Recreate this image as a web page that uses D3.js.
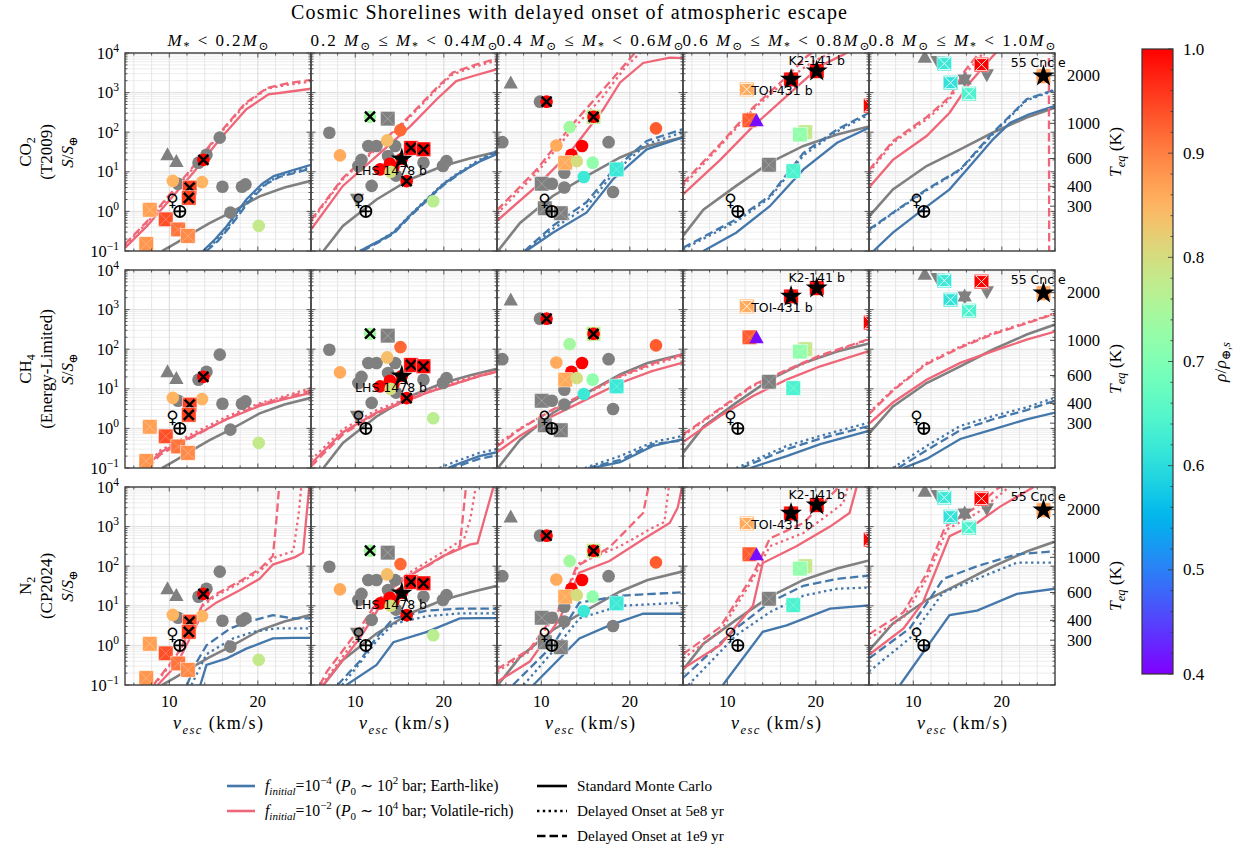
<!DOCTYPE html>
<html>
<head>
<meta charset="utf-8">
<script src="https://cdn.jsdelivr.net/npm/d3@7"></script>
<style>
  body { margin: 0; background: #fff; }
  svg { display: block; }
  text { white-space: pre; }
  .serif { font-family: "Liberation Serif", "DejaVu Serif", serif; }
  .sans { font-family: "DejaVu Sans", sans-serif; }
</style>
</head>
<body>
<svg id="chart" width="1244" height="855"></svg>
<script>
// ---------------------------------------------------------------
// Data: escape velocity (km/s) vs instellation S/S_earth
// ---------------------------------------------------------------
const velocityDomain = [5, 26];
const fluxDomain = [0.1, 1e4];
const velocityTicks = [10, 20];
const fluxTicks = [0.1, 1, 10, 100, 1000, 10000];
const teqTicks = [300, 400, 600, 1000, 2000];
const teqReference = 278;            // T_eq (K) at S = 1 S_earth
const densityDomain = [0.4, 1.0];
const densityTicks = [0.4, 0.5, 0.6, 0.7, 0.8, 0.9, 1.0];

const massBinLabels = [
  "|M|_{*} < 0.2|M|_{⊙}",
  "0.2 |M|_{⊙} ≤ |M|_{*} < 0.4|M|_{⊙}",
  "0.4 |M|_{⊙} ≤ |M|_{*} < 0.6|M|_{⊙}",
  "0.6 |M|_{⊙} ≤ |M|_{*} < 0.8|M|_{⊙}",
  "0.8 |M|_{⊙} ≤ |M|_{*} < 1.0|M|_{⊙}"
];
const gasLabels = [
  ["CO_{2}", "(T2009)", "|S|/|S|_{⊕}"],
  ["CH_{4}", "(Energy-Limited)", "|S|/|S|_{⊕}"],
  ["N_{2}", "(CP2024)", "|S|/|S|_{⊕}"]
];

// classic cosmic shoreline, one per stellar-mass bin
const shoreline = [
  [[9.2,0.1],[10.8,0.16],[12.7,0.29],[14.5,0.5],[16.9,0.93],[20.2,2.4],[23,4],[26,5.9]],
  [[6.4,0.1],[8.6,0.43],[12.4,2],[16.2,6.5],[19.9,14],[23,22],[26,32]],
  [[5.1,0.1],[7.6,0.51],[11.3,2.45],[15.1,7.8],[18.9,23],[22,45],[26,74]],
  [[5,0.24],[7.3,1.1],[11,4.4],[14.8,17],[18.6,45],[22.4,87],[26,140]],
  [[5,0.74],[7.7,3.6],[11.5,14],[15.3,37],[19,98],[22.8,234],[26,420]]
];

// ---- CO2 (T2009) ----
const co2RichStd = [
  [[5,0.12],[7.5,0.43],[12.7,9.5],[15.7,66],[18.7,380],[21.2,900],[23.5,1050],[26,1250]],
  [[5,0.35],[8.6,4.4],[12.4,25],[16.2,140],[19.2,680],[21.4,1950],[23.5,2700],[26,3900]],
  [[5,0.58],[9.5,4.4],[13.2,30],[17,380],[18.9,1800],[21.5,5600],[24.5,7600],[26,7400]],
  [[5,2.7],[9.2,20],[12.9,140],[16.7,810],[20.5,4700],[23.1,9100],[24,12000]],
  [[5,4],[7.7,20],[11.5,80],[14.1,310],[16.4,1800],[18.3,5600],[19.6,12000]]
];
const co2RichLate5 = [
  [[5,0.14],[7.5,0.52],[12.5,11],[15.5,80],[18.5,480],[21,1250],[23.5,1600],[26,1900]],
  [[5,0.55],[8.6,6.5],[12.4,38],[16,220],[19,1100],[21,2900],[23.5,4500],[26,6500]],
  [[5,0.87],[9.5,9.5],[13.2,98],[17,810],[19.6,4700],[20.8,8300],[21.5,12000]],
  [[5,4.4],[9.2,45],[12.9,370],[16.7,2100],[19.8,6300],[21.3,9100],[22,12000]],
  [[5,9.5],[7.7,54],[11.5,210],[14.1,680],[16,3200],[17.9,10000],[18.2,12000]]
];
const co2RichLate10 = [
  [[5,0.15],[7.5,0.56],[12.5,12],[15.5,85],[18.5,520],[21,1300],[23.5,1750],[26,2100]],
  [[5,0.6],[8.6,7],[12.4,42],[16,240],[19,1200],[21,3200],[23.5,5000],[26,7200]],
  [[5,1.07],[9.5,11.5],[13.2,130],[17,1200],[20.4,9100],[21,13000]],
  [[5,5.2],[9.2,50],[12.9,420],[16.7,2500],[19,8300],[20,12000]],
  [[5,11],[7.7,60],[11.5,240],[14.1,780],[15.8,3500],[17.6,11000],[25.3,100000],[25.35,0.01]]
];
const co2EarthStd = [
  [[13.8,0.1],[15.2,0.2],[16.5,0.43],[18.7,2],[20.5,5],[21.8,7.8],[24,11],[26,15]],
  [[10.5,0.1],[12.5,0.17],[14.3,0.29],[16.2,0.8],[18.1,2],[20,5],[21.8,9.5],[24,18],[26,28]],
  [[8.3,0.1],[11.3,0.29],[15.1,0.93],[18.1,6.5],[21.9,37],[26,74]],
  [[7.3,0.1],[11,0.29],[14.8,1.35],[18.6,11.5],[22.4,54],[26,130]],
  [[5.5,0.1],[7.7,0.29],[11.1,1.12],[14.1,3.6],[16.4,14],[19,66],[20.9,170],[23,280],[26,460]]
];
const co2EarthLate5 = [
  [[14,0.1],[15.4,0.19],[16.8,0.45],[19,2],[21,5.3],[22.5,8],[26,13]],
  [[10.6,0.1],[12.5,0.17],[14.3,0.3],[16.2,0.82],[18.1,2.1],[20,5.2],[21.8,10],[24,20],[26,34]],
  [[8.2,0.1],[11.3,0.36],[15.1,1.3],[18.1,9],[21.9,50],[26,100]],
  [[5,0.11],[11,0.55],[14.8,2.2],[18.6,26],[22.4,105],[26,280]],
  [[5,0.33],[7.7,0.9],[11.5,3.4],[15.3,11],[19,90],[22.8,640],[26,1150]]
];
const co2EarthLate10 = [
  [[14.2,0.1],[15.5,0.18],[17,0.45],[19,1.8],[21,5],[22.5,7.5],[26,12]],
  [[10.8,0.1],[12.5,0.16],[14.3,0.27],[16.2,0.75],[18.1,1.9],[20,4.7],[21.8,9],[24,19],[26,32]],
  [[8.1,0.1],[11.3,0.43],[15.1,1.7],[18.1,11],[21.9,60],[26,120]],
  [[5,0.12],[11,0.63],[14.8,2.45],[18.6,30],[22.4,117],[26,310]],
  [[5,0.35],[7.7,0.93],[11.5,3.6],[15.3,11.5],[19,98],[22.8,680],[26,1200]]
];

// ---- CH4 (energy-limited) ----
const ch4RichStd = [
  [[7.3,0.1],[9,0.25],[12.7,0.65],[16.5,1.7],[20.2,3.7],[23,5.5],[26,7.9]],
  [[5,0.13],[8.6,0.8],[12.4,2.5],[18.1,8],[24,21],[26,27]],
  [[5,0.25],[7.6,0.65],[11.3,2.05],[15.1,5.4],[18.9,14],[22.5,28],[26,46]],
  [[5,0.45],[9.2,2.05],[12.9,6.6],[16.7,17],[20.5,37],[26,90]],
  [[5,1.3],[7.7,4.5],[11.5,17],[15.3,45],[19,89],[22.8,174],[26,280]]
];
const ch4RichLate5 = [
  [[7.1,0.1],[9,0.28],[12.7,0.75],[16.5,2],[20.2,4.3],[23,6.5],[26,10.5]],
  [[5,0.16],[8.6,0.95],[12.4,2.9],[18.1,9],[24,23],[26,29]],
  [[5,0.4],[7.6,1],[11.3,2.9],[15.1,7.5],[18.9,20],[22.5,40],[26,68]],
  [[5,0.65],[9.2,3],[12.9,11.7],[16.7,28],[20.5,65],[26,175]],
  [[5,2.5],[7.7,9.5],[11.5,45],[15.3,117],[19,257],[22.8,470],[26,810]]
];
const ch4RichLate10 = [
  [[7.6,0.1],[9,0.22],[12.7,0.62],[16.5,1.75],[20.2,4],[23,6],[26,9]],
  [[5,0.11],[8.6,0.7],[12.4,2.4],[18.1,8],[24,21],[26,27]],
  [[5,0.35],[7.6,0.95],[11.3,3],[15.1,8],[18.9,21],[22.5,43],[26,74]],
  [[5,0.7],[9.2,3.2],[12.9,12.5],[16.7,30],[20.5,70],[26,180]],
  [[5,2.3],[7.7,9],[11.5,42],[15.3,110],[19,240],[22.8,450],[26,780]]
];
const ch4EarthStd = [
  [],
  [[20.5,0.1],[21.1,0.115],[24,0.2],[26,0.25]],
  [[15.8,0.1],[18.9,0.14],[22.6,0.36],[26,0.54]],
  [[12.6,0.1],[16.7,0.2],[20.5,0.4],[26,0.87]],
  [[8.9,0.1],[11.5,0.17],[15.3,0.54],[19,0.95],[22.8,1.7],[26,2.5]]
];
const ch4EarthLate5 = [
  [],
  [[19.5,0.1],[21.1,0.14],[24,0.24],[26,0.3]],
  [[14.9,0.1],[18.9,0.2],[22.6,0.45],[26,0.65]],
  [[11,0.1],[16.7,0.36],[20.5,0.65],[26,1.4]],
  [[7.7,0.1],[11.5,0.36],[15.3,1.15],[19,2.05],[22.8,3.4],[26,6]]
];
const ch4EarthLate10 = [
  [],
  [[20.5,0.1],[22,0.12],[24,0.17],[26,0.21]],
  [[15.3,0.1],[18.9,0.16],[22.6,0.4],[26,0.5]],
  [[11.6,0.1],[16.7,0.3],[20.5,0.55],[26,1.15]],
  [[8.3,0.1],[11.5,0.28],[15.3,0.9],[19,1.7],[22.8,2.9],[26,5]]
];

// ---- N2 (CP2024) ----
const n2RichStd = [
  [[8.7,0.1],[10.8,0.32],[12.7,2.2],[13.8,6.9],[15.3,12],[18,25],[20.2,48],[21.7,110],[24.2,170],[25.1,220],[25.8,10000]],
  [[6.4,0.1],[10.5,1.5],[12.4,7],[13.5,22],[16.2,58],[19.9,180],[22.9,350],[23.8,380],[25.6,10000]],
  [[5,0.12],[8.7,0.39],[12.1,4.8],[14.3,69],[17.7,135],[21.5,480],[24.5,1230],[25.4,3000],[25.9,10000]],
  [[5,0.26],[9.2,1.02],[12.9,10],[14,120],[17.8,320],[21.6,1000],[23.8,2200],[24.6,10000]],
  [[5,0.58],[8.9,2.7],[11.1,12.3],[14.1,575],[17.2,1230],[19.8,3200],[23.6,10000]]
];
const n2RichLate5 = [
  [[8.3,0.1],[10.8,0.5],[12.7,3.2],[13.8,10],[15.3,18],[18,38],[20.2,75],[22,170],[24,240],[24.6,2000],[24.9,10000]],
  [[6.2,0.1],[10.5,2],[12.4,9],[13.5,26],[16.2,70],[19.9,230],[22.3,500],[23,1600],[23.6,10000]],
  [[5,0.22],[8.7,0.7],[12.1,8.5],[14.3,120],[18.9,320],[22.8,1000],[23.9,1300],[24.4,10000]],
  [[5,0.47],[9.2,2.2],[12.9,48],[14.8,320],[18.6,690],[23.1,3900],[23.6,10000]],
  [[5,1.5],[8.9,5],[11.5,48],[13.8,850],[17.2,2200],[20,7000],[21,11000]]
];
const n2RichLate10 = [
  [[8.2,0.1],[10.8,0.55],[12.7,3.5],[13.8,11],[15.3,20],[18,42],[20.2,85],[21.7,180],[22.1,1500],[22.4,10000]],
  [[6,0.1],[6.8,0.22],[10.5,2.7],[12.4,12],[14.3,39],[18.1,100],[21.8,320],[22.5,10000]],
  [[5,0.25],[8.7,0.8],[12.1,9.5],[14,100],[17.7,300],[21.5,2200],[22.1,10000]],
  [[5,0.6],[9.2,2.9],[12.9,60],[14.8,500],[18.6,1230],[22.3,8500],[22.6,12000]],
  [[5,1.9],[8.9,6.9],[11.5,65],[13.6,1000],[17,3000],[19.5,9000],[20.5,12000]]
];
const n2EarthStd = [
  [[13.5,0.1],[14.2,0.32],[16.5,0.47],[18.7,0.83],[21.7,1.5],[24,1.55],[26,1.55]],
  [[9,0.1],[12.4,0.32],[14.3,1.2],[18.1,2.2],[21.8,4.8],[24,4.9],[26,4.9]],
  [[9.1,0.1],[14.3,1.5],[17.7,3.2],[21.5,6.3],[26,6.3]],
  [[9.5,0.1],[14,2.2],[16.7,3.2],[21.6,8.5],[26,10.2]],
  [[8.5,0.1],[14.1,5.8],[17.2,7.6],[21.7,20],[26,27]]
];
const n2EarthLate5 = [
  [[12.5,0.1],[14.2,0.6],[17.2,1.5],[19.5,2.2],[22.1,2.7],[26,2.7]],
  [[8.5,0.1],[10.5,0.35],[12.4,1.3],[14.3,3.5],[18.1,5.5],[21.8,6.4],[26,6.5]],
  [[8,0.1],[11.3,0.7],[14.3,4.8],[18.9,10],[26,12]],
  [[5.6,0.1],[11,1.8],[14.8,6.9],[18.6,18],[22.4,27],[26,29]],
  [[5,0.22],[9.6,1.5],[13.4,22],[17.2,48],[21.7,123],[26,123]]
];
const n2EarthLate10 = [
  [[12,0.1],[13,0.35],[14.2,1],[16.9,2.7],[19,4],[21.7,5.8],[24,4.8],[26,4.8]],
  [[8,0.1],[10.5,0.4],[12.4,1.6],[14.3,4.8],[18.1,7.6],[21.8,8.5],[26,8.5]],
  [[6.8,0.1],[11.3,1],[14.3,12],[18.9,18],[26,22]],
  [[5,0.15],[11,2.7],[14.8,12.3],[18.6,32],[22.4,48],[26,58]],
  [[5,0.47],[9.6,2.7],[13.4,48],[17.2,100],[21.7,200],[26,240]]
];

// ---- observed planets: [v_esc, S, marker, rho/rho_earth (null = unknown), overlay] ----
const planetsBin1 = [
  [9.8,26,"^",null],[10.8,17.6,"^",null],
  [15.7,73,"o",null],[14.2,27,"o",null],[13.3,17,"o",null],[16,4.2,"o",null],[18.2,4.2,"o",null],
  [18.6,4.8,"o",null],[16.9,0.93,"o",null],[11,5,"o",null],
  [10.4,5.9,"o",0.85],[13.7,5.5,"o",0.85],
  [13.85,20,"o",1.0,"x"],
  [12.3,4,"s",0.95,"x"],[12.2,2.2,"s",0.95,"x"],
  [7.8,1.1,"s",0.87],[9.6,0.63,"s",0.94],[11,0.35,"s",0.91],[12.1,0.24,"s",0.89],[7.4,0.15,"s",0.88],
  [20.1,0.43,"o",0.78]
];
const planetsBin2 = [
  [13.66,220,"s",null],[7.07,97,"o",null],
  [11.47,45,"o",null],[12.4,45,"o",null],[14.5,45,"o",null],[13.7,25,"o",null],[10.7,20,"o",null],
  [10.35,14,"o",null],[11.85,4.4,"o",null],[17.7,17,"o",null],[20.3,18.6,"o",null],[19.9,14,"o",null],[14.6,8,"o",null],
  [10.2,2.1,"v",null],
  [11.66,246,"o",0.74,"x"],[15.1,113,"o",0.92],[13.6,62,"o",0.84],[8.27,26,"o",0.86],
  [12.8,11.5,"o",1.0],[13.9,16,"o",1.0],[14.3,13,"o",1.0],[14,10,"o",0.8],
  [15.25,21,"o",1.0,"*"],
  [16.3,40,"s",1.0,"x"],[17.7,37,"s",1.0,"x"],
  [15.8,5.8,"o",1.0,"x"],[18.8,1.8,"o",0.77]
];
const planetsBin3 = [
  [6.55,1700,"^",null],[9.85,590,"o",null],[5.6,56,"o",null],[17.6,56,"o",null],
  [12.6,9.5,"o",null],[12.6,4,"o",null],[18.1,3.1,"o",null],
  [10.05,5,"s",null],[11.2,5,"o",null],[10.4,1.2,"s",null],[12.2,0.9,"s",null],
  [10.6,590,"o",1.0,"x"],
  [15.9,245,"s",0.78],[15.9,245,"o",1.0,"x"],
  [13.2,134,"o",0.74],[22.95,125,"o",0.93],[11.7,46,"o",0.86],[14.6,45,"o",1.0],[13.4,27,"o",1.0],
  [12.7,17,"s",0.86],[14,18.6,"o",0.8],[15.8,17,"o",0.72],[18.5,11.5,"s",0.62],[14.8,7.4,"o",0.62]
];
const planetsBin4 = [
  [17.2,2150,"s",1.0,"*"],[20.1,3500,"s",1.0,"*"],
  [12.2,1200,"hs",0.86],[12.5,200,"s",0.93],[13.3,190,"^",0.41],
  [18.8,100,"s",0.78],[18.2,87,"s",0.72],[14.7,15,"s",null],[17.45,10.4,"s",0.64],
  [26.2,470,"hs",1.0]
];
const planetsBin5 = [
  [12.75,6300,"v",null],[11.3,7600,"^",null],[13.5,5400,"hs",0.62],
  [15.8,2150,"v",null],[15.8,2150,"^",null],[18.3,2900,"v",null],
  [14.2,1780,"hs",0.61],[16.3,940,"hs",0.64],[17.7,5100,"hs",1.0],
  [24.7,2600,"s",0.87,"*"]
];
const planetsByBin = [planetsBin1, planetsBin2, planetsBin3, planetsBin4, planetsBin5];

const planetNames = [
  {bin: 1, text: "LHS 1478 b", v: 9.97, s: 8.1},
  {bin: 3, text: "K2-141 b", v: 16.9, s: 4900},
  {bin: 3, text: "TOI-431 b", v: 12.7, s: 850},
  {bin: 4, text: "55 Cnc e", v: 21.0, s: 4350}
];

// Venus and Earth: [symbol, v_esc, S]
const solarSystem = [["venus", 10.36, 1.91], ["earth", 11.19, 1.0]];

const legendScenarios = [
  "|f|_{|initial|}=10^{−4} (|P|_{0} ∼ 10^{2} bar; Earth-like)",
  "|f|_{|initial|}=10^{−2} (|P|_{0} ∼ 10^{4} bar; Volatile-rich)"
];
const legendOnsets = ["Standard Monte Carlo", "Delayed Onset at 5e8 yr", "Delayed Onset at 1e9 yr"];

// ---------------------------------------------------------------
// Layout and styles
// ---------------------------------------------------------------
const svg = d3.select("#chart");
const RED = "#EE6677", BLUE = "#4477AA", GREY = "#808080";
const DASH = [null, "2.4,3.4", "8.5,4"];
const LW = 2.3;

const panelLeft = 125, panelWidth = 186, panelHeight = 198;
const rowTops = [53, 270, 487];

const x = d3.scaleLinear().domain(velocityDomain).range([0, panelWidth]);
const y = d3.scaleLog().domain(fluxDomain).range([panelHeight, 0]);

function rainbow(t) {
  t = Math.max(0, Math.min(1, t));
  const cl = v => Math.round(255 * Math.max(0, Math.min(1, v)));
  const r = Math.abs(2 * t - 0.5), g = Math.sin(Math.PI * t), b = Math.cos(Math.PI * t / 2);
  return `rgb(${cl(r)},${cl(g)},${cl(b)})`;
}
const densityColor = rho => rainbow((rho - densityDomain[0]) / (densityDomain[1] - densityDomain[0]));

// small mathtext-like renderer: |..| italic, _{..} subscript, ^{..} superscript
function richText(sel, str, size) {
  let shift = 0;
  str.split(/(_\{[^}]*\}|\^\{[^}]*\})/).forEach(tok => {
    if (!tok) return;
    let level = 0, body = tok;
    if (tok.startsWith("_{")) { level = 1; body = tok.slice(2, -1); }
    else if (tok.startsWith("^{")) { level = -1; body = tok.slice(2, -1); }
    const fs = level ? size * 0.7 : size;
    const off = level === 1 ? size * 0.25 : level === -1 ? -size * 0.42 : 0;
    body.split(/(\|[^|]+\|)/).forEach(seg => {
      if (!seg) return;
      const ital = seg.length > 2 && seg[0] === "|" && seg[seg.length - 1] === "|";
      const t = sel.append("tspan").attr("font-size", fs).attr("dy", off - shift)
        .text(ital ? seg.slice(1, -1) : seg);
      if (ital) t.attr("font-style", "italic");
      shift = off;
    });
  });
  return sel;
}
const serifText = (parent) => parent.append("text").attr("class", "serif");

const rows = [
  {rich: [co2RichStd, co2RichLate5, co2RichLate10], earth: [co2EarthStd, co2EarthLate5, co2EarthLate10]},
  {rich: [ch4RichStd, ch4RichLate5, ch4RichLate10], earth: [ch4EarthStd, ch4EarthLate5, ch4EarthLate10]},
  {rich: [n2RichStd, n2RichLate5, n2RichLate10], earth: [n2EarthStd, n2EarthLate5, n2EarthLate10]}
];

const defs = svg.append("defs");
const line = d3.line().x(d => x(d[0])).y(d => y(d[1]));

function drawMarker(g, p) {
  const [v, s, shape, rho, over] = p;
  const fill = rho == null ? GREY : densityColor(rho);
  const m = g.append("g").attr("transform", `translate(${x(v)},${y(s)})`);
  if (shape === "o") {
    m.append("circle").attr("r", 6.3).attr("fill", fill);
  } else if (shape === "s" || shape === "hs") {
    m.append("rect").attr("x", -7.3).attr("y", -7.3).attr("width", 14.6).attr("height", 14.6)
      .attr("fill", fill).attr("stroke", "#fff").attr("stroke-width", 0.7).attr("stroke-opacity", 0.7);
    if (shape === "hs") {
      m.append("path").attr("d", "M-6,-6L6,-6L-6,6L6,6Z").attr("fill", "none")
        .attr("stroke", "#fff").attr("stroke-width", 1).attr("stroke-opacity", 0.85);
    } else {
      m.append("path").attr("d", "M-7,-7L7,7M-7,7L7,-7").attr("stroke", "#fff")
        .attr("stroke-width", 0.7).attr("stroke-opacity", 0.35);
    }
  } else if (shape === "^") {
    m.append("path").attr("d", "M0,-8L7.2,5L-7.2,5Z").attr("fill", fill);
  } else if (shape === "v") {
    m.append("path").attr("d", "M0,8L7.2,-5L-7.2,-5Z").attr("fill", fill);
  }
  if (over === "x") {
    m.append("path").attr("d", "M-5,-5L5,5M-5,5L5,-5").attr("stroke", "#000").attr("stroke-width", 2.4);
  } else if (over === "*") {
    m.append("path").attr("d", d3.symbol(d3.symbolStar, 150)()).attr("fill", "#000");
  }
}

function drawSolarSystem(g) {
  solarSystem.forEach(([name, v, s]) => {
    const cx = x(v), cy = y(s);
    if (name === "earth") {
      const e = g.append("g").attr("transform", `translate(${cx},${cy})`)
        .attr("stroke", "#000").attr("stroke-width", 1.8).attr("fill", "none");
      e.append("circle").attr("r", 5.6);
      e.append("path").attr("d", "M-5.6,0H5.6M0,-5.6V5.6");
    } else {
      g.append("text").attr("class", "sans").attr("x", cx).attr("y", cy).attr("text-anchor", "middle")
        .attr("dominant-baseline", "central").attr("font-weight", "bold").attr("font-size", 17).text("♀");
    }
  });
}

const vMinor = d3.range(6, 27, 2);
const sMinor = [];
for (let d = -1; d < 4; d++) for (let k = 2; k <= 9; k++) sMinor.push(k * Math.pow(10, d));

rows.forEach((row, r) => {
  for (let c = 0; c < 5; c++) {
    const left = panelLeft + c * panelWidth, top = rowTops[r];
    const g = svg.append("g").attr("transform", `translate(${left},${top})`);
    const clipId = `clip-${r}-${c}`;
    defs.append("clipPath").attr("id", clipId).append("rect")
      .attr("width", panelWidth).attr("height", panelHeight);

    // grid
    const grid = g.append("g");
    sMinor.forEach(s => grid.append("line").attr("x1", 0).attr("x2", panelWidth)
      .attr("y1", y(s)).attr("y2", y(s)).attr("stroke", "#e9e9e9").attr("stroke-width", 0.8));
    fluxTicks.forEach(s => grid.append("line").attr("x1", 0).attr("x2", panelWidth)
      .attr("y1", y(s)).attr("y2", y(s)).attr("stroke", "#d9d9d9").attr("stroke-width", 0.9));
    vMinor.forEach(v => grid.append("line").attr("x1", x(v)).attr("x2", x(v))
      .attr("y1", 0).attr("y2", panelHeight)
      .attr("stroke", velocityTicks.includes(v) ? "#d6d6d6" : "#e4e4e4").attr("stroke-width", 0.9));

    const plot = g.append("g").attr("clip-path", `url(#${clipId})`);

    // shoreline and escape curves
    plot.append("path").datum(shoreline[c]).attr("d", line).attr("fill", "none")
      .attr("stroke", GREY).attr("stroke-width", LW + 0.3);
    row.earth.forEach((set, k) => {
      if (!set[c].length) return;
      plot.append("path").datum(set[c]).attr("d", line).attr("fill", "none")
        .attr("stroke", BLUE).attr("stroke-width", LW).attr("stroke-dasharray", DASH[k]);
    });
    row.rich.forEach((set, k) => {
      plot.append("path").datum(set[c]).attr("d", line).attr("fill", "none")
        .attr("stroke", RED).attr("stroke-width", LW).attr("stroke-dasharray", DASH[k]);
    });

    // planets
    planetsByBin[c].forEach(p => drawMarker(plot, p));
    drawSolarSystem(plot);

    // frame and ticks (inward, on all sides)
    const tk = g.append("g").attr("stroke", "#333").attr("stroke-width", 0.8);
    fluxTicks.forEach(s => {
      tk.append("line").attr("x1", 0).attr("x2", 4.5).attr("y1", y(s)).attr("y2", y(s));
      tk.append("line").attr("x1", panelWidth).attr("x2", panelWidth - 4.5).attr("y1", y(s)).attr("y2", y(s));
    });
    sMinor.forEach(s => {
      tk.append("line").attr("x1", 0).attr("x2", 2.5).attr("y1", y(s)).attr("y2", y(s));
      tk.append("line").attr("x1", panelWidth).attr("x2", panelWidth - 2.5).attr("y1", y(s)).attr("y2", y(s));
    });
    vMinor.forEach(v => {
      const len = velocityTicks.includes(v) ? 4.5 : 2.5;
      tk.append("line").attr("x1", x(v)).attr("x2", x(v)).attr("y1", panelHeight).attr("y2", panelHeight - len);
      tk.append("line").attr("x1", x(v)).attr("x2", x(v)).attr("y1", 0).attr("y2", len);
    });
    g.append("rect").attr("width", panelWidth).attr("height", panelHeight)
      .attr("fill", "none").attr("stroke", "#404040").attr("stroke-width", 1.4);

    // planet names
    planetNames.filter(n => n.bin === c).forEach(n => {
      g.append("text").attr("class", "sans").attr("x", x(n.v)).attr("y", y(n.s))
        .attr("font-size", 12.5).attr("fill", "#000").text(n.text);
    });

    // left axis labels
    if (c === 0) {
      fluxTicks.forEach(s => {
        const e = Math.round(Math.log10(s));
        const t = serifText(g).attr("x", -6).attr("y", y(s) + 5.5).attr("text-anchor", "end").attr("font-size", 16.5);
        richText(t, `10^{${e < 0 ? "−" + Math.abs(e) : e}}`, 16.5);
      });
      const cy = top + panelHeight / 2;
      [31, 52, 73].forEach((bx, i) => {
        const t = serifText(svg).attr("transform", `translate(${bx},${cy}) rotate(-90)`)
          .attr("text-anchor", "middle").attr("font-size", 17);
        richText(t, gasLabels[r][i], 17);
      });
    }
    // temperature axis
    if (c === 4) {
      teqTicks.forEach(T => {
        const sy = y(Math.pow(T / teqReference, 4));
        g.append("line").attr("x1", panelWidth).attr("x2", panelWidth - 5).attr("y1", sy).attr("y2", sy)
          .attr("stroke", "#333").attr("stroke-width", 0.9);
        serifText(g).attr("x", panelWidth + 12).attr("y", sy).attr("dominant-baseline", "central")
          .attr("font-size", 16.5).text(T);
      });
      const t = serifText(svg).attr("transform", `translate(1121,${top + panelHeight / 2}) rotate(-90)`)
        .attr("text-anchor", "middle").attr("font-size", 17.5);
      richText(t, "|T|_{|eq|} (K)", 17.5);
    }
    // bottom axis labels
    if (r === 2) {
      velocityTicks.forEach(v => serifText(g).attr("x", x(v)).attr("y", panelHeight + 22)
        .attr("text-anchor", "middle").attr("font-size", 16.5).text(v));
      const t = serifText(g).attr("x", panelWidth / 2 - 45).attr("y", panelHeight + 44)
        .attr("font-size", 18).attr("textLength", 90).attr("lengthAdjust", "spacing");
      richText(t, "|v|_{|esc|} (km/s)", 18);
    }
    // mass-bin titles
    if (r === 0) {
      const w = c === 0 ? 101 : 187;
      const t = serifText(g).attr("x", panelWidth / 2 - w / 2).attr("y", -7)
        .attr("font-size", 17).attr("textLength", w).attr("lengthAdjust", "spacing");
      richText(t, massBinLabels[c], 17);
    }
  }
});

// figure title
serifText(svg).attr("x", 569).attr("y", 18.5).attr("text-anchor", "middle")
  .attr("font-size", 20).attr("textLength", 556).attr("lengthAdjust", "spacing")
  .text("Cosmic Shorelines with delayed onset of atmospheric escape");

// ---------------------------------------------------------------
// Colour bar
// ---------------------------------------------------------------
const cb = {x: 1142, y: 49, w: 31, h: 625};
const grad = defs.append("linearGradient").attr("id", "cbGrad")
  .attr("x1", 0).attr("y1", 1).attr("x2", 0).attr("y2", 0);
d3.range(0, 1.0001, 0.02).forEach(t => grad.append("stop")
  .attr("offset", t).attr("stop-color", rainbow(t)));
svg.append("rect").attr("x", cb.x).attr("y", cb.y).attr("width", cb.w).attr("height", cb.h)
  .attr("fill", "url(#cbGrad)");
const cbScale = d3.scaleLinear().domain(densityDomain).range([cb.y + cb.h, cb.y]);
d3.range(0.4, 1.0001, 0.02).forEach(v => {
  const major = Math.abs(v * 10 - Math.round(v * 10)) < 1e-6;
  svg.append("line").attr("x1", cb.x + cb.w).attr("x2", cb.x + cb.w - (major ? 5 : 2.5))
    .attr("y1", cbScale(v)).attr("y2", cbScale(v)).attr("stroke", "#333").attr("stroke-width", 0.8);
});
densityTicks.forEach(v => serifText(svg).attr("x", cb.x + cb.w + 10).attr("y", cbScale(v))
  .attr("dominant-baseline", "central").attr("font-size", 17).text(v.toFixed(1)));
svg.append("rect").attr("x", cb.x).attr("y", cb.y).attr("width", cb.w).attr("height", cb.h)
  .attr("fill", "none").attr("stroke", "#333").attr("stroke-width", 1.2);
{
  const t = serifText(svg).attr("transform", "translate(1226,362) rotate(-90)")
    .attr("text-anchor", "middle").attr("font-size", 17.5);
  richText(t, "|ρ|/|ρ|_{⊕,|s|}", 17.5);
}

// ---------------------------------------------------------------
// Legends
// ---------------------------------------------------------------
const legendRowsLeft = [786, 811];
[BLUE, RED].forEach((col, i) => {
  svg.append("line").attr("x1", 227).attr("x2", 255).attr("y1", legendRowsLeft[i]).attr("y2", legendRowsLeft[i])
    .attr("stroke", col).attr("stroke-width", 2.6);
  const t = serifText(svg).attr("x", 265).attr("y", legendRowsLeft[i] + 5).attr("font-size", 15.7);
  richText(t, legendScenarios[i], 15.7);
});
const legendRowsRight = [786, 811, 836];
legendOnsets.forEach((label, i) => {
  svg.append("line").attr("x1", 537).attr("x2", 567).attr("y1", legendRowsRight[i]).attr("y2", legendRowsRight[i])
    .attr("stroke", "#000").attr("stroke-width", 2.6).attr("stroke-dasharray", DASH[i]);
  serifText(svg).attr("x", 577).attr("y", legendRowsRight[i] + 5).attr("font-size", 15.2).text(label);
});
</script>
</body>
</html>
